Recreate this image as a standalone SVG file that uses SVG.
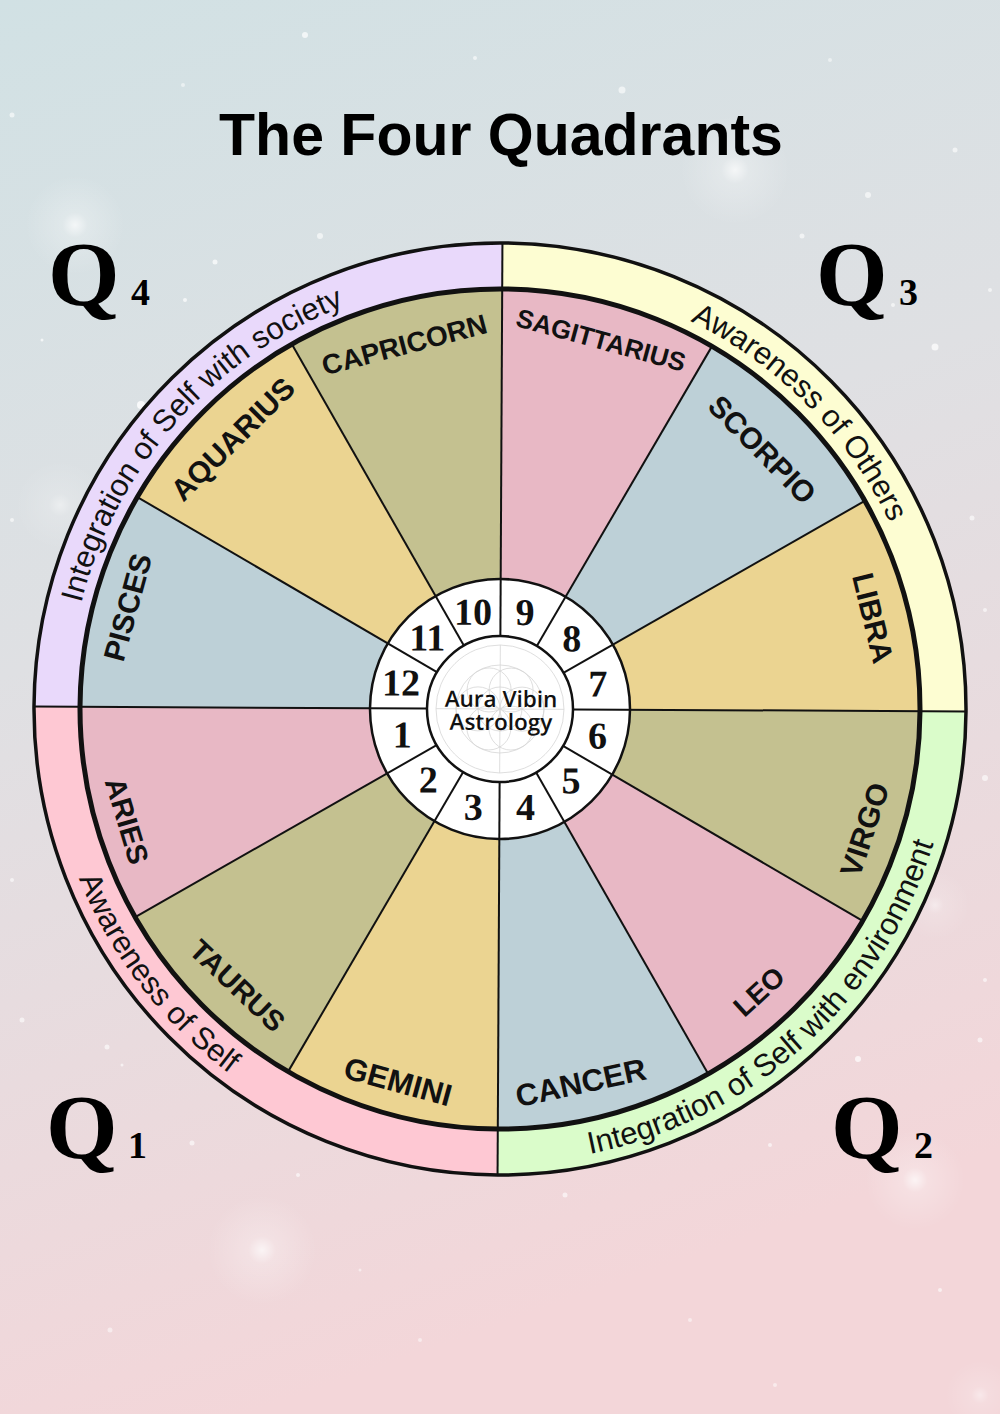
<svg xmlns="http://www.w3.org/2000/svg" width="1000" height="1414" viewBox="0 0 1000 1414">
<defs>
<linearGradient id="bg" x1="0" y1="0" x2="0.25" y2="1">
<stop offset="0" stop-color="#d1e1e4"/>
<stop offset="0.45" stop-color="#dfe0e3"/>
<stop offset="1" stop-color="#f3d6d9"/>
</linearGradient>
<radialGradient id="glow">
<stop offset="0" stop-color="#ffffff" stop-opacity="0.9"/>
<stop offset="0.25" stop-color="#ffffff" stop-opacity="0.3"/>
<stop offset="1" stop-color="#ffffff" stop-opacity="0"/>
</radialGradient>
<path id="arcQ4" d="M68,709 A432,432 0 0 1 500,277"/>
<path id="arcQ3" d="M500,277 A432,432 0 0 1 932,709"/>
<path id="arcQ1" d="M46,709 A454,454 0 0 0 500,1163"/>
<path id="arcQ2" d="M500,1163 A454,454 0 0 0 954,709"/>
</defs>
<style>
.sign{font-family:"Liberation Sans",Arial,sans-serif;font-weight:bold;fill:#111;text-anchor:middle}
.ring{font-family:"Liberation Sans",Arial,sans-serif;font-size:31px;fill:#111;text-anchor:middle}
.house{font-family:"Liberation Serif","Times New Roman",serif;font-weight:bold;font-size:38px;fill:#111;text-anchor:middle}
.q{font-family:"Liberation Serif","Times New Roman",serif;font-weight:bold;fill:#000}
.div{stroke:#111;stroke-width:2}
.spark{fill:#fff}
.pink{fill:#e8b8c5}.olive{fill:#c4c190}.tan{fill:#ebd491}.blue{fill:#bdd0d7}
.fol{fill:none;stroke:#d6d6d6;stroke-width:0.8}
</style>
<rect width="1000" height="1414" fill="url(#bg)"/>
<g id="background-sparkles">
<circle cx="735" cy="170" r="55" fill="url(#glow)" opacity="0.8"/>
<circle cx="75" cy="225" r="50" fill="url(#glow)" opacity="0.8"/>
<circle cx="60" cy="505" r="45" fill="url(#glow)" opacity="0.5"/>
<circle cx="262" cy="1250" r="55" fill="url(#glow)" opacity="0.8"/>
<circle cx="915" cy="1180" r="50" fill="url(#glow)" opacity="0.8"/>
<circle cx="935" cy="905" r="35" fill="url(#glow)" opacity="0.5"/>
<circle cx="980" cy="1395" r="35" fill="url(#glow)" opacity="0.5"/>
<circle class="spark" cx="305" cy="35" r="3" opacity="0.7"/>
<circle class="spark" cx="622" cy="90" r="3.5" opacity="0.6"/>
<circle class="spark" cx="475" cy="58" r="2" opacity="0.6"/>
<circle class="spark" cx="12" cy="115" r="2.5" opacity="0.6"/>
<circle class="spark" cx="183" cy="85" r="2" opacity="0.5"/>
<circle class="spark" cx="830" cy="60" r="2" opacity="0.5"/>
<circle class="spark" cx="955" cy="150" r="2.5" opacity="0.6"/>
<circle class="spark" cx="868" cy="195" r="3" opacity="0.6"/>
<circle class="spark" cx="215" cy="262" r="2.5" opacity="0.7"/>
<circle class="spark" cx="320" cy="236" r="3" opacity="0.6"/>
<circle class="spark" cx="141" cy="405" r="4" opacity="0.8"/>
<circle class="spark" cx="185" cy="300" r="2" opacity="0.7"/>
<circle class="spark" cx="42" cy="340" r="1.5" opacity="0.7"/>
<circle class="spark" cx="12" cy="520" r="2" opacity="0.6"/>
<circle class="spark" cx="802" cy="236" r="2.5" opacity="0.6"/>
<circle class="spark" cx="893" cy="305" r="2" opacity="0.6"/>
<circle class="spark" cx="935" cy="347" r="3.5" opacity="0.7"/>
<circle class="spark" cx="990" cy="290" r="2" opacity="0.6"/>
<circle class="spark" cx="972" cy="518" r="2.5" opacity="0.6"/>
<circle class="spark" cx="985" cy="610" r="2" opacity="0.6"/>
<circle class="spark" cx="985" cy="778" r="3" opacity="0.6"/>
<circle class="spark" cx="985" cy="980" r="2" opacity="0.6"/>
<circle class="spark" cx="12" cy="880" r="2" opacity="0.6"/>
<circle class="spark" cx="22" cy="1020" r="2.5" opacity="0.6"/>
<circle class="spark" cx="107" cy="1047" r="2.5" opacity="0.6"/>
<circle class="spark" cx="122" cy="1065" r="1.5" opacity="0.6"/>
<circle class="spark" cx="192" cy="1143" r="2.5" opacity="0.6"/>
<circle class="spark" cx="298" cy="1175" r="2" opacity="0.6"/>
<circle class="spark" cx="565" cy="1195" r="2.5" opacity="0.6"/>
<circle class="spark" cx="770" cy="1145" r="2" opacity="0.6"/>
<circle class="spark" cx="858" cy="1059" r="3" opacity="0.7"/>
<circle class="spark" cx="980" cy="1040" r="2.5" opacity="0.6"/>
<circle class="spark" cx="940" cy="1290" r="2" opacity="0.6"/>
<circle class="spark" cx="690" cy="1320" r="2" opacity="0.5"/>
<circle class="spark" cx="420" cy="1340" r="2" opacity="0.5"/>
<circle class="spark" cx="110" cy="1330" r="2.5" opacity="0.5"/>
<circle class="spark" cx="360" cy="1270" r="1.5" opacity="0.5"/>
<circle class="spark" cx="775" cy="1385" r="2" opacity="0.5"/>
</g>
<g id="title"><text x="501" y="155" font-family="'Liberation Sans',Arial,sans-serif" font-weight="bold" font-size="59" text-anchor="middle" fill="#000">The Four Quadrants</text></g>
<g id="q4-label"><text class="q" x="48" y="305" font-size="92">Q</text><text class="q" x="131" y="305" font-size="38">4</text></g>
<g id="q3-label"><text class="q" x="816" y="305" font-size="92">Q</text><text class="q" x="899" y="305" font-size="38">3</text></g>
<g id="q1-label"><text class="q" x="46" y="1158" font-size="92">Q</text><text class="q" x="128" y="1158" font-size="38">1</text></g>
<g id="q2-label"><text class="q" x="831" y="1158" font-size="92">Q</text><text class="q" x="914" y="1158" font-size="38">2</text></g>
<g id="wheel" transform="rotate(0.3 500 709)">
<g id="quadrant-ring">
<g id="q3-ring"><path d="M500,709 L966,709 A466,466 0 0 0 500,243 Z" fill="#fdfdd2"/></g>
<g id="q4-ring"><path d="M500,709 L500,243 A466,466 0 0 0 34,709 Z" fill="#e9d9fb"/></g>
<g id="q1-ring"><path d="M500,709 L34,709 A466,466 0 0 0 500,1175 Z" fill="#fec8d3"/></g>
<g id="q2-ring"><path d="M500,709 L500,1175 A466,466 0 0 0 966,709 Z" fill="#dafcca"/></g>
</g>
<g id="signs">
<g id="libra"><path class="tan" d="M500,709 L920,709 A420,420 0 0 0 863.73,499 Z"/></g>
<g id="scorpio"><path class="blue" d="M500,709 L863.73,499 A420,420 0 0 0 710,345.27 Z"/></g>
<g id="sagittarius"><path class="pink" d="M500,709 L710,345.27 A420,420 0 0 0 500,289 Z"/></g>
<g id="capricorn"><path class="olive" d="M500,709 L500,289 A420,420 0 0 0 290,345.27 Z"/></g>
<g id="aquarius"><path class="tan" d="M500,709 L290,345.27 A420,420 0 0 0 136.27,499 Z"/></g>
<g id="pisces"><path class="blue" d="M500,709 L136.27,499 A420,420 0 0 0 80,709 Z"/></g>
<g id="aries"><path class="pink" d="M500,709 L80,709 A420,420 0 0 0 136.27,919 Z"/></g>
<g id="taurus"><path class="olive" d="M500,709 L136.27,919 A420,420 0 0 0 290,1072.73 Z"/></g>
<g id="gemini"><path class="tan" d="M500,709 L290,1072.73 A420,420 0 0 0 500,1129 Z"/></g>
<g id="cancer"><path class="blue" d="M500,709 L500,1129 A420,420 0 0 0 710,1072.73 Z"/></g>
<g id="leo"><path class="pink" d="M500,709 L710,1072.73 A420,420 0 0 0 863.73,919 Z"/></g>
<g id="virgo"><path class="olive" d="M500,709 L863.73,919 A420,420 0 0 0 920,709 Z"/></g>
</g>
<g id="houses-ring">
<circle cx="500" cy="709" r="130" fill="#fff"/>
</g>
<g id="dividers">
<line class="div" x1="573" y1="709" x2="966" y2="709"/>
<line class="div" x1="500" y1="636" x2="500" y2="243"/>
<line class="div" x1="427" y1="709" x2="34" y2="709"/>
<line class="div" x1="500" y1="782" x2="500" y2="1175"/>
<line class="div" x1="563.22" y1="672.5" x2="863.73" y2="499"/>
<line class="div" x1="536.5" y1="645.78" x2="710" y2="345.27"/>
<line class="div" x1="463.5" y1="645.78" x2="290" y2="345.27"/>
<line class="div" x1="436.78" y1="672.5" x2="136.27" y2="499"/>
<line class="div" x1="436.78" y1="745.5" x2="136.27" y2="919"/>
<line class="div" x1="463.5" y1="772.22" x2="290" y2="1072.73"/>
<line class="div" x1="536.5" y1="772.22" x2="710" y2="1072.73"/>
<line class="div" x1="563.22" y1="745.5" x2="863.73" y2="919"/>
</g>
<g id="circles">
<circle cx="500" cy="709" r="466" fill="none" stroke="#111" stroke-width="3.5"/>
<circle cx="500" cy="709" r="420" fill="none" stroke="#111" stroke-width="5"/>
<circle cx="500" cy="709" r="130" fill="none" stroke="#111" stroke-width="2.5"/>
</g>
<g id="center">
<circle cx="500" cy="709" r="73" fill="#fff" stroke="#111" stroke-width="2.5"/>
<g id="flower-of-life">
<circle class="fol" cx="500" cy="709" r="64"/>
<circle class="fol" cx="500" cy="709" r="22"/>
<circle class="fol" cx="522" cy="709" r="22"/>
<circle class="fol" cx="478" cy="709" r="22"/>
<circle class="fol" cx="511" cy="690" r="22"/>
<circle class="fol" cx="489" cy="690" r="22"/>
<circle class="fol" cx="511" cy="728" r="22"/>
<circle class="fol" cx="489" cy="728" r="22"/>
<circle class="fol" cx="500" cy="709" r="44"/>
<line class="fol" x1="436" y1="709" x2="564" y2="709"/>
<line class="fol" x1="500" y1="645" x2="500" y2="773"/>
</g>
<text x="501" y="707" font-family="'Open Sans','Liberation Sans',sans-serif" font-weight="600" font-size="22.5" text-anchor="middle" fill="#111">Aura Vibin</text>
<text x="501" y="730" font-family="'Open Sans','Liberation Sans',sans-serif" font-weight="600" font-size="22.5" text-anchor="middle" fill="#111">Astrology</text>
</g>
<g id="house-numbers">
<text class="house" x="597.6" y="696">7</text>
<text class="house" x="571.4" y="651">8</text>
<text class="house" x="524.5" y="625">9</text>
<text class="house" x="472.5" y="625">10</text>
<text class="house" x="427" y="651">11</text>
<text class="house" x="401" y="696">12</text>
<text class="house" x="402.4" y="748">1</text>
<text class="house" x="428.6" y="793">2</text>
<text class="house" x="473.9" y="820">3</text>
<text class="house" x="526.1" y="820">4</text>
<text class="house" x="571.4" y="793">5</text>
<text class="house" x="597.6" y="748">6</text>
</g>
<g id="sign-labels">
<text class="sign" font-size="30" transform="rotate(76 500 709)" x="500" y="335.5">LIBRA</text>
<text class="sign" font-size="30" transform="rotate(45 500 709)" x="500" y="350.5">SCORPIO</text>
<text class="sign" font-size="26" transform="rotate(15 500 709)" x="500" y="335.5">SAGITTARIUS</text>
<text class="sign" font-size="28" transform="rotate(-15 500 709)" x="500" y="342">CAPRICORN</text>
<text class="sign" font-size="30" transform="rotate(-45 500 709)" x="500" y="339.5">AQUARIUS</text>
<text class="sign" font-size="30" transform="rotate(-75 500 709)" x="500" y="333.5">PISCES</text>
<text class="sign" font-size="29" transform="rotate(73 500 709)" x="500" y="1108.5">ARIES</text>
<text class="sign" font-size="29" transform="rotate(43.2 500 709)" x="500" y="1100.5">TAURUS</text>
<text class="sign" font-size="31" transform="rotate(15 500 709)" x="500" y="1106">GEMINI</text>
<text class="sign" font-size="31" transform="rotate(-12.5 500 709)" x="500" y="1102">CANCER</text>
<text class="sign" font-size="28" transform="rotate(-42.8 500 709)" x="500" y="1102">LEO</text>
<text class="sign" font-size="30" transform="rotate(-72 500 709)" x="500" y="1103.5">VIRGO</text>
</g>
<g id="quadrant-texts">
<text class="ring"><textPath href="#arcQ4" startOffset="45.8%">Integration of Self with society</textPath></text>
<text class="ring"><textPath href="#arcQ3" startOffset="50%">Awareness of Others</textPath></text>
<text class="ring"><textPath href="#arcQ1" startOffset="42.2%">Awareness of Self</textPath></text>
<text class="ring"><textPath href="#arcQ2" startOffset="47.1%">Integration of Self with environment</textPath></text>
</g>
</g>
</svg>
